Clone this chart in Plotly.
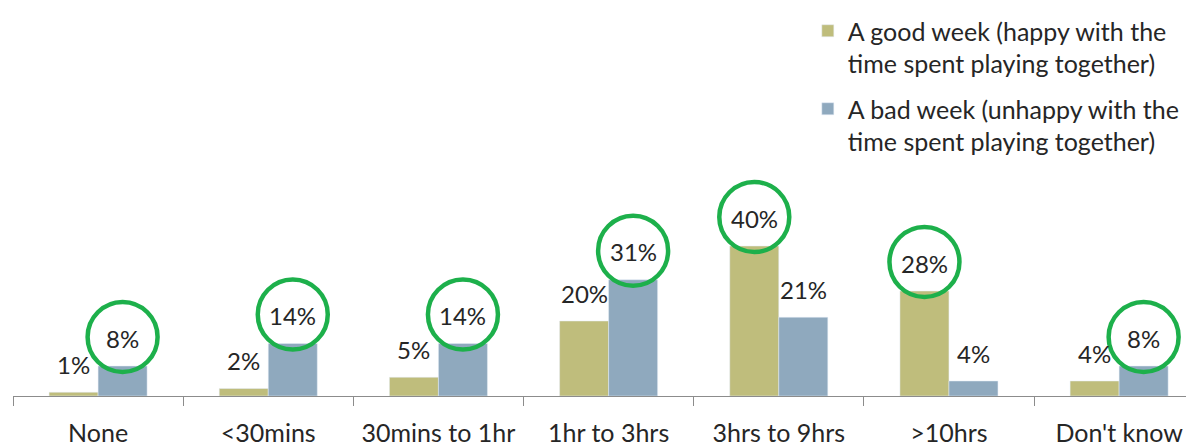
import plotly.graph_objects as go

categories = ["None", "<30mins", "30mins to 1hr", "1hr to 3hrs", "3hrs to 9hrs", ">10hrs", "Don't know"]
good_week = [1, 2, 5, 20, 40, 28, 4]
bad_week = [8, 14, 14, 31, 21, 4, 8]
good_name = "A good week (happy with the<br>time spent playing together)"
bad_name = "A bad week (unhappy with the<br>time spent playing together)"

GOOD = "#BFBD7C"
BAD = "#8FA9BE"
RING = "#1DB04B"
FONT = "Lato"
TXT = "#262626"

fig = go.Figure()
fig.add_bar(name=good_name, x=categories, y=good_week, marker_color=GOOD, legendgroup="good")
fig.add_bar(name=bad_name, x=categories, y=bad_week, marker_color=BAD, legendgroup="bad")

# data labels + green rings around the bigger value in each group
half = 24.5
for i, cat in enumerate(categories):
    for val, dx, other in ((good_week[i], -half, bad_week[i]), (bad_week[i], half, good_week[i])):
        fig.add_annotation(x=cat, y=val, xshift=dx, yshift=28, text=f"{val}%",
                           showarrow=False, font=dict(family=FONT, size=24, color=TXT))
        if val > other:
            fig.add_shape(type="circle", xref="x", yref="y",
                          xsizemode="pixel", ysizemode="pixel",
                          xanchor=i, yanchor=val,
                          x0=dx - 35, x1=dx + 35, y0=29 - 35, y1=29 + 35,
                          line=dict(color=RING, width=4.5))

# page has an 8px body margin, so the figure is a bit smaller than the window
fig.update_layout(
    width=1186, height=439,
    margin=dict(l=5, r=0, t=13, b=46),
    barmode="group", bargap=0.424, bargroupgap=0,
    plot_bgcolor="white", paper_bgcolor="white",
    font=dict(family=FONT, size=24, color=TXT),
    showlegend=True,
    legend=dict(x=0.673, y=1.084, xanchor="left", yanchor="top", valign="top",
                font=dict(size=25), tracegroupgap=10, bgcolor="rgba(0,0,0,0)"),
)
fig.update_xaxes(range=[-0.5, 6.44], showline=True, linecolor="#8c8c8c", linewidth=1,
                 ticks="outside", tickson="boundaries", ticklen=9, tickcolor="#8c8c8c",
                 ticklabelstandoff=15,
                 tickfont=dict(family=FONT, size=25, color=TXT), showgrid=False)
fig.update_yaxes(range=[0, 380 / 3.98], visible=False, showgrid=False)

fig.write_html("out.html")
